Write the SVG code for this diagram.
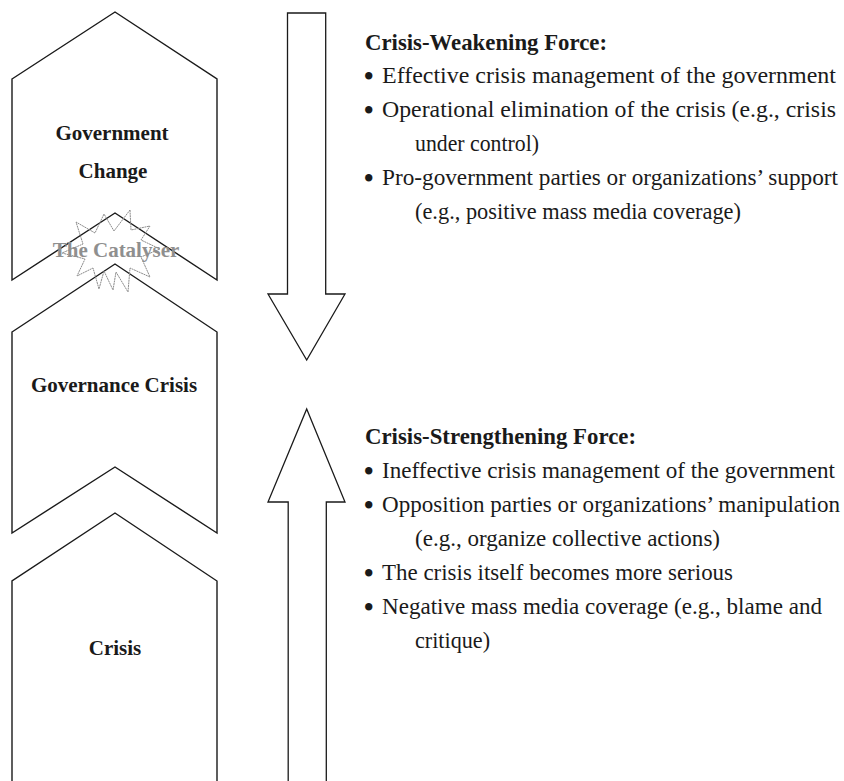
<svg xmlns="http://www.w3.org/2000/svg" width="844" height="781" viewBox="0 0 844 781">
  <style>
    .stage { fill: #ffffff; stroke: #1a1a1a; stroke-width: 1.4; stroke-linejoin: miter; }
    .block { fill: #ffffff; stroke: #1a1a1a; stroke-width: 1.3; stroke-linejoin: miter; }
    .label { font-family: "Liberation Serif", "Times New Roman", serif; font-weight: bold; font-size: 21px; fill: #1a1a1a; text-anchor: middle; }
    .heading { font-family: "Liberation Serif", "Times New Roman", serif; font-weight: bold; font-size: 22.6px; fill: #1a1a1a; }
    .item { font-family: "Liberation Serif", "Times New Roman", serif; font-size: 22.8px; fill: #1a1a1a; }
    .dot { font-family: "Liberation Serif", "Times New Roman", serif; font-weight: bold; font-size: 27px; fill: #1a1a1a; }
    .burst { fill: none; stroke: #8c8c8c; stroke-width: 1; stroke-dasharray: 2 0.6; }
    .catalyser { font-family: "Liberation Serif", "Times New Roman", serif; font-weight: bold; font-size: 21px; fill: #8f8f8f; text-anchor: middle; }
  </style>

  <rect width="844" height="781" fill="#ffffff"/>

  <!-- stages, bottom to top -->
  <g id="stage-crisis">
    <polygon class="stage" points="12,795 12,581 115,513 217,581 217,795"/>
    <text class="label" x="115" y="655">Crisis</text>
  </g>

  <g id="stage-governance-crisis">
    <polygon class="stage" points="12,332 115,264 217,332 217,533 115,467 12,533"/>
    <text class="label" x="114" y="392">Governance Crisis</text>
  </g>

  <g id="stage-government-change">
    <polygon class="stage" points="12,79 115,12 217,79 217,280 115,213 12,280"/>
    <text class="label" x="112" y="140">Government</text>
    <text class="label" x="113" y="178">Change</text>
  </g>

  <!-- the catalyser burst between the upper stages -->
  <g id="catalyser">
    <polygon class="burst" points="130,210 131,230 150,226 141,240 160,249 141,257 150,277 130,268 128,292 116,272 113,290 104,271 99,289 93,268 77,276 85,259 62,253 83,244 76,222 95,233 104,214 114,231"/>
    <text class="catalyser" x="116" y="257">The Catalyser</text>
  </g>

  <!-- opposing forces -->
  <g id="connectors">
    <polygon id="weakening-arrow" class="block" points="287.5,13 325.7,13 325.7,294 345,294 306.7,360 268,294 287.5,294"/>
    <polygon id="strengthening-arrow" class="block" points="306.7,409 345,502 326.3,502 326.3,795 288.2,795 288.2,502 268,502"/>
  </g>

  <g id="weakening-force">
    <text class="heading" x="365" y="50" textLength="242" lengthAdjust="spacingAndGlyphs">Crisis-Weakening Force:</text>
    <text class="dot" x="364" y="85">•</text>
    <text class="item" x="382" y="83" textLength="454" lengthAdjust="spacingAndGlyphs">Effective crisis management of the government</text>
    <text class="dot" x="364" y="119">•</text>
    <text class="item" x="382" y="117" textLength="454" lengthAdjust="spacingAndGlyphs">Operational elimination of the crisis (e.g., crisis</text>
    <text class="item" x="415" y="151" textLength="124" lengthAdjust="spacingAndGlyphs">under control)</text>
    <text class="dot" x="364" y="187">•</text>
    <text class="item" x="382" y="185" textLength="456" lengthAdjust="spacingAndGlyphs">Pro-government parties or organizations’ support</text>
    <text class="item" x="415" y="219" textLength="326" lengthAdjust="spacingAndGlyphs">(e.g., positive mass media coverage)</text>
  </g>

  <g id="strengthening-force">
    <text class="heading" x="365" y="444" textLength="271" lengthAdjust="spacingAndGlyphs">Crisis-Strengthening Force:</text>
    <text class="dot" x="364" y="480">•</text>
    <text class="item" x="382" y="478" textLength="453" lengthAdjust="spacingAndGlyphs">Ineffective crisis management of the government</text>
    <text class="dot" x="364" y="514">•</text>
    <text class="item" x="382" y="512" textLength="458" lengthAdjust="spacingAndGlyphs">Opposition parties or organizations’ manipulation</text>
    <text class="item" x="415" y="546" textLength="305" lengthAdjust="spacingAndGlyphs">(e.g., organize collective actions)</text>
    <text class="dot" x="364" y="582">•</text>
    <text class="item" x="382" y="580" textLength="351" lengthAdjust="spacingAndGlyphs">The crisis itself becomes more serious</text>
    <text class="dot" x="364" y="616">•</text>
    <text class="item" x="382" y="614" textLength="440" lengthAdjust="spacingAndGlyphs">Negative mass media coverage (e.g., blame and</text>
    <text class="item" x="415" y="648" textLength="75" lengthAdjust="spacingAndGlyphs">critique)</text>
  </g>
</svg>
